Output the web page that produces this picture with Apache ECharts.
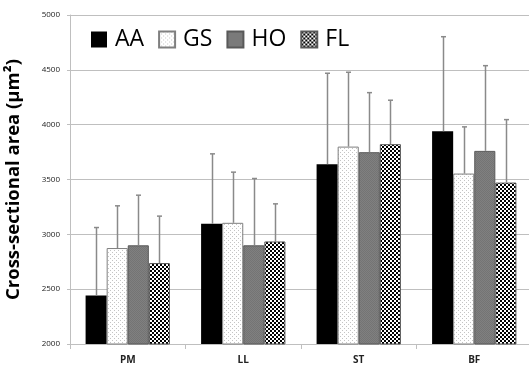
<!DOCTYPE html>
<html>
<head>
<meta charset="utf-8">
<script src="https://cdn.jsdelivr.net/npm/echarts@6/dist/echarts.min.js"></script>
<style>html,body{margin:0;padding:0;background:#fff}#c{width:529px;height:366px}</style>
</head>
<body>
<div id="c"></div>
<script>
var categories = ['PM', 'LL', 'ST', 'BF'];
var seriesNames = ['AA', 'GS', 'HO', 'FL'];
var meanAA = [2443, 3096, 3640, 3940];
var meanGS = [2875, 3105, 3800, 3554];
var meanHO = [2900, 2900, 3749, 3761];
var meanFL = [2738, 2935, 3822, 3472];
var errTopAA = [3062, 3734, 4469, 4802];
var errTopGS = [3260, 3567, 4478, 3980];
var errTopHO = [3357, 3509, 4292, 4538];
var errTopFL = [3166, 3278, 4223, 4046];
var yTicks = [2000, 2500, 3000, 3500, 4000, 4500, 5000];

function makePattern(size, draw) {
  var c = document.createElement('canvas');
  c.width = size; c.height = size;
  var ctx = c.getContext('2d');
  draw(ctx);
  return { image: c, repeat: 'repeat' };
}
var patGS = makePattern(4, function (ctx) {
  ctx.fillStyle = '#ffffff'; ctx.fillRect(0, 0, 4, 4);
  ctx.fillStyle = '#c4c4c4'; ctx.fillRect(0, 0, 1, 1); ctx.fillRect(2, 2, 1, 1);
});
var patHO = makePattern(2, function (ctx) {
  ctx.fillStyle = '#808080'; ctx.fillRect(0, 0, 2, 2);
  ctx.fillStyle = '#747474'; ctx.fillRect(0, 0, 1, 1); ctx.fillRect(1, 1, 1, 1);
});
var patFL = makePattern(4, function (ctx) {
  ctx.fillStyle = '#ffffff'; ctx.fillRect(0, 0, 4, 4);
  ctx.fillStyle = '#000000'; ctx.fillRect(0, 0, 2, 2); ctx.fillRect(2, 2, 2, 2);
});

var means = [meanAA, meanGS, meanHO, meanFL];
var errs = [errTopAA, errTopGS, errTopHO, errTopFL];
var fills = ['#000000', patGS, patHO, patFL];
var borders = ['#000000', '#7f7f7f', '#595959', '#595959'];
var catGap = 0.27;

var series = [];
seriesNames.forEach(function (name, i) {
  series.push({
    name: name, type: 'bar', data: means[i],
    barGap: '0%', barCategoryGap: (catGap * 100) + '%',
    itemStyle: { color: fills[i], borderColor: borders[i], borderWidth: i === 0 ? 0 : 1 },
    z: 2
  });
});
seriesNames.forEach(function (name, i) {
  series.push({
    type: 'custom', name: name + '_err', z: 3, silent: true,
    data: categories.map(function (c, k) { return [k, means[i][k], errs[i][k]]; }),
    encode: { x: 0, y: [1, 2] },
    renderItem: function (params, api) {
      var k = api.value(0);
      var base = api.coord([k, api.value(1)]);
      var top = api.coord([k, api.value(2)]);
      var band = api.size([1, 0])[0];
      var gw = band * (1 - catGap);
      var bw = gw / 4;
      var x = Math.round(base[0] - gw / 2 + bw * (i + 0.5)) + 0.5;
      var st = { stroke: '#8a8a8a', lineWidth: 1.5 };
      return { type: 'group', children: [
        { type: 'line', shape: { x1: x, y1: base[1], x2: x, y2: top[1] }, style: st },
        { type: 'line', shape: { x1: x - 2.5, y1: top[1], x2: x + 2.5, y2: top[1] }, style: st }
      ]};
    }
  });
});

var chart = echarts.init(document.getElementById('c'), null, { renderer: 'canvas' });
chart.setOption({
  animation: false,
  backgroundColor: '#ffffff',
  grid: { left: 70, top: 15, width: 462, bottom: 22, containLabel: false, outerBoundsMode: 'none' },
  legend: {
    data: seriesNames, left: 86, top: 23, itemWidth: 16, itemHeight: 16, itemGap: 14,
    icon: 'rect',
    textStyle: { fontFamily: 'Open Sans', fontSize: 23, color: '#000', padding: [0, 0, 0, 3] }
  },
  xAxis: {
    type: 'category', data: categories,
    axisLine: { lineStyle: { color: '#bfbfbf', width: 1 } },
    axisTick: { show: true, length: 5, lineStyle: { color: '#bfbfbf' } },
    axisLabel: { fontFamily: 'Open Sans', fontSize: 10, fontWeight: 'bold', color: '#222', margin: 11 }
  },
  yAxis: {
    type: 'value', min: yTicks[0], max: yTicks[yTicks.length - 1], interval: 500,
    name: 'Cross-sectional area (μm²)', nameLocation: 'middle', nameGap: 47,
    nameTextStyle: { fontFamily: 'Open Sans', fontSize: 18.5, fontWeight: 'bold', color: '#000' },
    axisLine: { show: true, lineStyle: { color: '#bfbfbf' } },
    axisTick: { show: true, length: 3, lineStyle: { color: '#bfbfbf' } },
    splitLine: { lineStyle: { color: '#bfbfbf' } },
    axisLabel: { fontFamily: 'Open Sans', fontSize: 8, color: '#222', margin: 10,
      formatter: function (v) { return String(v); } }
  },
  series: series
});
</script>
</body>
</html>
